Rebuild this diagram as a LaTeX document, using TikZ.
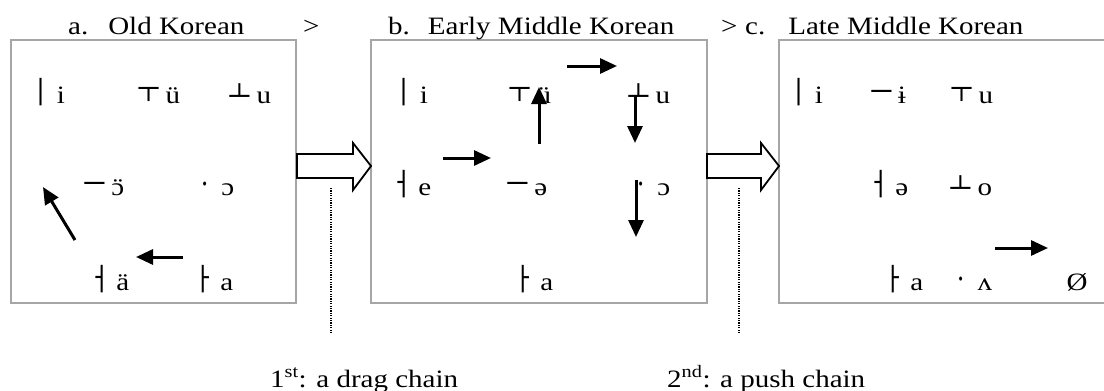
\documentclass[tikz,border=0pt]{standalone}
\usepackage{fontspec}
\setmainfont{Liberation Serif}[FakeStretch=1.16]
\newfontfamily\kr{Noto Sans CJK KR}[FakeStretch=0.8]
\usetikzlibrary{arrows.meta}
\newcommand{\jvl}[2]{{\kr\fontsize{31}{36}\selectfont #1}\hspace{5pt}#2}
\newcommand{\odia}{\ooalign{ɔ\cr\hidewidth ¨\hidewidth\cr}}
\tikzset{
  txt/.style={inner sep=0pt, font=\fontsize{25}{30}\selectfont},
  ttl/.style={txt, anchor=base west},
  lab/.style={txt, anchor=base},
  panel/.style={draw=black!35, line width=2.4pt},
  shift arrow/.style={line width=3pt, -{Triangle[length=17pt,width=15pt]}},
  hollow/.style={draw=black, fill=white, line width=1.8pt, line join=miter},
  divider/.style={line width=1.2pt, dash pattern=on 1.2pt off 1.2pt}
}
\begin{document}
\begin{tikzpicture}[x=1pt,y=-1pt]
\clip (0,0) rectangle (1104,391);
\fill[white] (0,0) rectangle (1104,391);

% panels
\draw[panel] (11,40) rectangle (296,303);
\draw[panel] (371,40) rectangle (707,303);
\draw[panel] (779,40) rectangle (1120,303);

% hollow arrows between panels
\draw[hollow] (297,154) -- (353,154) -- (353,143) -- (371,166) -- (353,190) -- (353,178) -- (297,178) -- cycle;
\draw[hollow] (707,154) -- (761,154) -- (761,143) -- (779,166) -- (761,190) -- (761,178) -- (707,178) -- cycle;

% dotted dividers
\coordinate (d1t) at (331,188); \coordinate (d1b) at (331,334);
\coordinate (d2t) at (739,188); \coordinate (d2b) at (739,334);
\draw[divider] (d1t) -- (d1b);
\draw[divider] (d2t) -- (d2b);

% titles
\node[ttl] (ta) at (68,34) {a.\hspace{20pt}Old Korean};
\node[ttl] (g1) at (303,34) {>};
\node[ttl] (tb) at (388,34) {b.\hspace{18pt}Early Middle Korean};
\node[ttl] (g2) at (721,34) {>};
\node[ttl] (tc) at (745,34) {c.\hspace{23pt}Late Middle Korean};

% panel a
\node[lab] (a1) at (47,103) {\jvl{ㅣ}{i}};
\node[lab] (a2) at (159,103) {\jvl{ㅜ}{ü}};
\node[lab] (a3) at (250,103) {\jvl{ㅗ}{u}};
\node[lab] (a4) at (104,195) {\jvl{ㅡ}{\odia}};
\node[lab] (a5) at (214,195) {\jvl{ㆍ}{ɔ}};
\node[lab] (a6) at (109,290) {\jvl{ㅓ}{ä}};
\node[lab] (a7) at (213,290) {\jvl{ㅏ}{a}};
\coordinate (aA1) at (183,257); \coordinate (aA2) at (136,257);
\coordinate (aB1) at (75,240);  \coordinate (aB2) at (43,187);
\draw[shift arrow] (aA1) -- (aA2);
\draw[shift arrow] (aB1) -- (aB2);

% panel b
\node[lab] (b1) at (410,103) {\jvl{ㅣ}{i}};
\node[lab] (b2) at (530,103) {\jvl{ㅜ}{ü}};
\node[lab] (b3) at (649,103) {\jvl{ㅗ}{u}};
\node[lab] (b4) at (411,195) {\jvl{ㅓ}{e}};
\node[lab] (b5) at (527,195) {\jvl{ㅡ}{ə}};
\node[lab] (b6) at (650,195) {\jvl{ㆍ}{ɔ}};
\node[lab] (b7) at (533,290) {\jvl{ㅏ}{a}};
\coordinate (bA1) at (567,66);  \coordinate (bA2) at (617,66);
\coordinate (bB1) at (539,144); \coordinate (bB2) at (539,87);
\coordinate (bC1) at (635,95);  \coordinate (bC2) at (635,143);
\coordinate (bD1) at (636,180); \coordinate (bD2) at (636,237);
\coordinate (bE1) at (443,158); \coordinate (bE2) at (491,158);
\draw[shift arrow] (bA1) -- (bA2);
\draw[shift arrow] (bB1) -- (bB2);
\draw[shift arrow] (bC1) -- (bC2);
\draw[shift arrow] (bD1) -- (bD2);
\draw[shift arrow] (bE1) -- (bE2);

% panel c
\node[lab] (c1) at (805,103) {\jvl{ㅣ}{i}};
\node[lab] (c2) at (888,103) {\jvl{ㅡ}{ɨ}};
\node[lab] (c3) at (972,103) {\jvl{ㅜ}{u}};
\node[lab] (c4) at (888,195) {\jvl{ㅓ}{ə}};
\node[lab] (c5) at (971,195) {\jvl{ㅗ}{o}};
\node[lab] (c6) at (903,290) {\jvl{ㅏ}{a}};
\node[lab] (c7) at (971,290) {\jvl{ㆍ}{ʌ}};
\node[lab] (c8) at (1077,290) {Ø};
\coordinate (cA1) at (995,248); \coordinate (cA2) at (1048,248);
\draw[shift arrow] (cA1) -- (cA2);

% captions
\node[ttl] (cap1) at (270,387) {1\textsuperscript{st}: a drag chain};
\node[ttl] (cap2) at (667,387) {2\textsuperscript{nd}: a push chain};
\end{tikzpicture}
\end{document}
